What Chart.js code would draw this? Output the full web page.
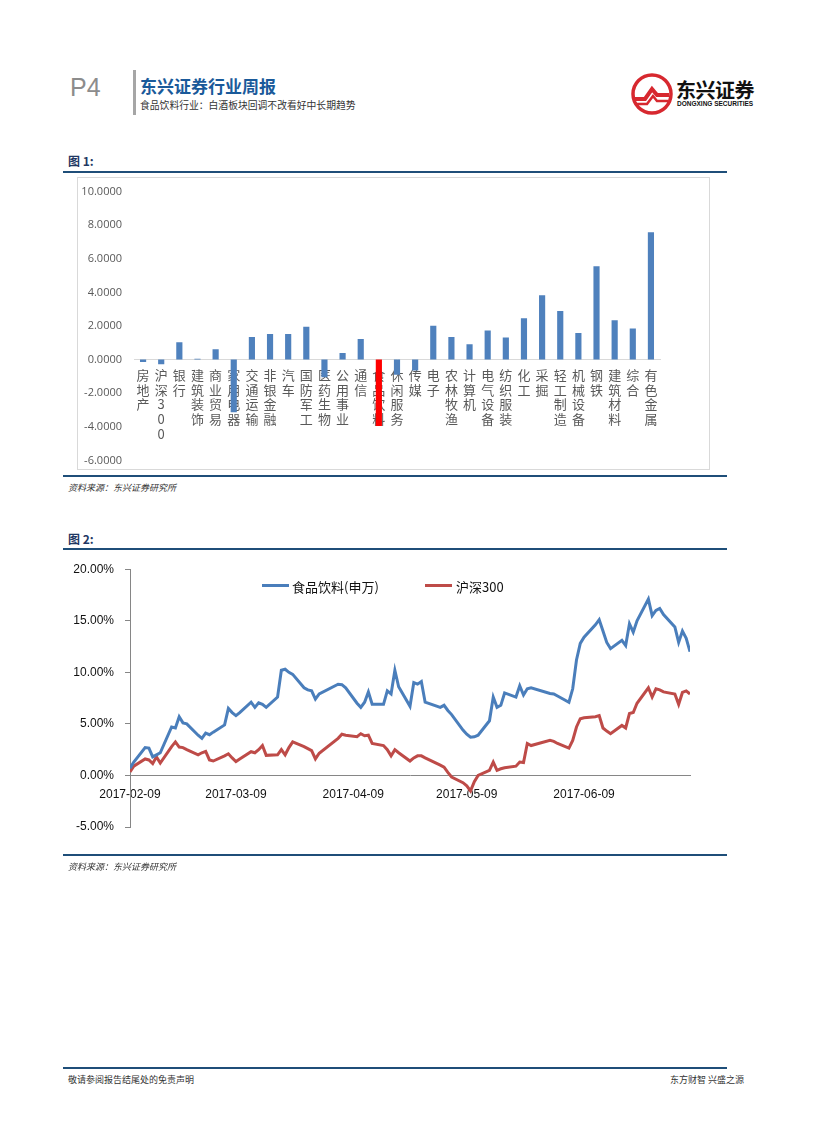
<!DOCTYPE html>
<html>
<head>
<meta charset="utf-8">
<script src="https://cdn.jsdelivr.net/npm/chart.js@4.4.0/dist/chart.umd.min.js"></script>
<style>
body { margin: 0; background: #fff; font-family: "Noto Sans CJK SC", "Liberation Sans", sans-serif; }
#page { position: relative; width: 827px; height: 1122px; overflow: hidden; background: #fff; }
.abs { position: absolute; white-space: nowrap; }
.rule { position: absolute; left: 63px; width: 664px; height: 2px; background: #1f4e79; }
.figTitle { font-size: 12px; font-weight: bold; color: #1f3864; }
.src { font-size: 9px; font-style: italic; color: #333; }
.legItem { position: absolute; top: 577px; font-size: 13px; color: #111; }
.legLine { position: absolute; height: 3px; top: 584px; width: 27px; }
</style>
</head>
<body>
<div id="page">
  <!-- header -->
  <div class="abs" style="left:70px;top:73px;font-family:'Liberation Sans';font-size:25px;color:#8c8c8c;">P4</div>
  <div class="abs" style="left:133px;top:70px;width:3px;height:45px;background:#a6a6a6;"></div>
  <div class="abs" style="left:140px;top:73px;font-size:17px;font-weight:bold;color:#1a5a9a;">东兴证券行业周报</div>
  <div class="abs" style="left:140px;top:98px;font-size:9.8px;color:#333;">食品饮料行业：白酒板块回调不改看好中长期趋势</div>
  <svg class="abs" style="left:630px;top:72px;" width="44" height="44" viewBox="0 0 44 44">
    <circle cx="22" cy="22" r="19" fill="#fff" stroke="#d7282f" stroke-width="3.5"/>
    <path d="M5,27 L15,27 L22,17 L27,23 L39,23" fill="none" stroke="#d7282f" stroke-width="4"/>
    <path d="M6,32 L17,32 L23,24 L27,29 L38,29" fill="none" stroke="#d7282f" stroke-width="2.5"/>
  </svg>
  <div class="abs" style="left:676px;top:75px;font-size:20px;font-weight:bold;color:#111;letter-spacing:-0.5px;">东兴证券</div>
  <div class="abs" style="left:677px;top:100px;font-family:'Liberation Sans';font-size:6.5px;font-weight:bold;color:#111;">DONGXING SECURITIES</div>

  <!-- figure 1 -->
  <div class="abs figTitle" style="left:68px;top:152px;">图 1:</div>
  <div class="rule" style="top:171px;"></div>
  <div class="abs" style="left:77px;top:177px;width:633px;height:293px;border:1px solid #d9d9d9;box-sizing:border-box;"></div>
  <div class="abs" style="left:78px;top:173px;width:631px;height:306px;">
    <canvas id="c1" width="631" height="306"></canvas>
  </div>
  <div class="rule" style="top:475px;"></div>
  <div class="abs src" style="left:68px;top:481px;">资料来源：东兴证券研究所</div>

  <!-- figure 2 -->
  <div class="abs figTitle" style="left:68px;top:530px;">图 2:</div>
  <div class="rule" style="top:548px;"></div>
  <div class="abs" style="left:60px;top:551px;width:667px;height:306px;">
    <canvas id="c2" width="667" height="306"></canvas>
  </div>
  <div class="legLine" style="left:262px;background:#4a7ebb;"></div>
  <div class="legItem" style="left:292px;">食品饮料(申万)</div>
  <div class="legLine" style="left:425px;background:#be4b48;"></div>
  <div class="legItem" style="left:456px;">沪深300</div>
  <div class="rule" style="top:854px;"></div>
  <div class="abs src" style="left:68px;top:860px;">资料来源：东兴证券研究所</div>

  <!-- footer -->
  <div class="rule" style="top:1067px;"></div>
  <div class="abs" style="left:68px;top:1073px;font-size:9px;color:#333;">敬请参阅报告结尾处的免责声明</div>
  <div class="abs" style="left:670px;top:1073px;font-size:9px;color:#333;">东方财智 兴盛之源</div>
</div>

<script>
// 图1: 申万一级行业周涨跌幅(%)
const industries = ['房地产', '沪深300', '银行', '建筑装饰', '商业贸易', '家用电器', '交通运输', '非银金融', '汽车', '国防军工',
  '医药生物', '公用事业', '通信', '食品饮料', '休闲服务', '传媒', '电子', '农林牧渔', '计算机', '电气设备',
  '纺织服装', '化工', '采掘', '轻工制造', '机械设备', '钢铁', '建筑材料', '综合', '有色金属'];
const weeklyChange = [-0.15, -0.27, 1.03, 0.05, 0.61, -3.14, 1.35, 1.53, 1.53, 1.96,
  -1.05, 0.40, 1.23, -3.95, -0.90, -0.65, 2.02, 1.35, 0.92, 1.73,
  1.31, 2.46, 3.83, 2.90, 1.59, 5.56, 2.34, 1.85, 7.58];
const highlight = '食品饮料';
const y1Min = -6, y1Max = 10, y1Step = 2;

// 图2: 累计涨跌幅(%)
const tradeDates = [
  '2017-02-09', '2017-02-10', '2017-02-13', '2017-02-14', '2017-02-15', '2017-02-16', '2017-02-17', '2017-02-20', '2017-02-21', '2017-02-22',
  '2017-02-23', '2017-02-24', '2017-02-27', '2017-02-28',
  '2017-03-01', '2017-03-02', '2017-03-03', '2017-03-06', '2017-03-07', '2017-03-08', '2017-03-09', '2017-03-10', '2017-03-13', '2017-03-14',
  '2017-03-15', '2017-03-16', '2017-03-17', '2017-03-20', '2017-03-21', '2017-03-22', '2017-03-23', '2017-03-24', '2017-03-27', '2017-03-28',
  '2017-03-29', '2017-03-30', '2017-03-31',
  '2017-04-05', '2017-04-06', '2017-04-07', '2017-04-10', '2017-04-11', '2017-04-12', '2017-04-13', '2017-04-14', '2017-04-17', '2017-04-18',
  '2017-04-19', '2017-04-20', '2017-04-21', '2017-04-24', '2017-04-25', '2017-04-26', '2017-04-27', '2017-04-28',
  '2017-05-02', '2017-05-03', '2017-05-04', '2017-05-05', '2017-05-08', '2017-05-09', '2017-05-10', '2017-05-11', '2017-05-12', '2017-05-15',
  '2017-05-16', '2017-05-17', '2017-05-18', '2017-05-19', '2017-05-22', '2017-05-23', '2017-05-24', '2017-05-25', '2017-05-26', '2017-05-31',
  '2017-06-01', '2017-06-02', '2017-06-05', '2017-06-06', '2017-06-07', '2017-06-08', '2017-06-09', '2017-06-12', '2017-06-13', '2017-06-14',
  '2017-06-15', '2017-06-16', '2017-06-19', '2017-06-20', '2017-06-21', '2017-06-22', '2017-06-23', '2017-06-26', '2017-06-27', '2017-06-28',
  '2017-06-29', '2017-06-30',
  '2017-07-03', '2017-07-04', '2017-07-05', '2017-07-06', '2017-07-07'];
const foodBeverage = [
  0.7, 1.3, 2.7, 2.65, 1.8, 2.0, 2.2, 4.7, 4.6, 5.7,
  5.1, 5.0, 3.9, 3.6,
  4.1, 3.95, 4.2, 4.9, 6.5, 6.1, 5.8, 6.1, 7.1, 6.6,
  7.05, 6.9, 6.6, 7.6, 10.2, 10.3, 10.0, 9.8, 8.5, 8.3,
  8.2, 7.4, 7.9,
  8.85, 8.8, 8.5, 7.0, 6.6, 7.1, 8.1, 6.9, 6.9, 8.2,
  7.9, 10.2, 8.6, 6.7, 9.0, 8.85, 9.1, 7.1,
  6.6, 6.8, 6.3, 5.9, 4.4, 4.0, 3.7, 3.75, 3.9, 5.3,
  7.6, 6.6, 6.8, 8.0, 7.6, 8.7, 7.8, 8.4, 8.5, 7.95,
  7.9, 7.7, 7.1, 8.4, 11.2, 12.8, 13.4, 14.6, 15.1, 14.0,
  12.9, 12.3, 13.1, 12.6, 14.7, 13.9, 15.0, 17.1, 15.5, 16.0,
  16.2, 15.6,
  14.4, 12.9, 14.0, 13.3, 12.0];
const hs300 = [
  0.35, 0.9, 1.6, 1.5, 1.15, 1.8, 1.2, 2.8, 3.25, 2.75,
  2.7, 2.5, 2.0, 2.2,
  2.33, 1.5, 1.4, 1.9, 2.1, 1.7, 1.35, 1.6, 2.3, 2.2,
  2.5, 2.9, 1.95, 2.0, 2.5, 2.0, 2.7, 3.25, 2.8, 2.6,
  2.4, 1.6, 2.15,
  3.6, 4.0, 3.9, 3.75, 4.05, 3.85, 3.9, 3.1, 2.9, 2.5,
  1.9, 2.5, 2.2, 1.4, 1.7, 1.9, 1.9, 1.7,
  1.0, 0.8, 0.3, -0.15, -0.7, -1.0, -1.5, -0.6, 0.0, 0.5,
  1.3, 0.5, 0.65, 0.75, 0.9, 1.3, 1.25, 3.1, 2.9, 3.4,
  3.3, 3.1, 2.65, 3.4, 4.7, 5.5, 5.6, 5.7, 5.8, 4.6,
  4.3, 4.05, 4.85, 4.6, 6.0, 6.1, 7.0, 8.5, 7.6, 8.4,
  8.3, 8.1,
  7.9, 6.9, 8.05, 8.2, 7.9];
const dateTicks = ['2017-02-09', '2017-03-09', '2017-04-09', '2017-05-09', '2017-06-09'];
const y2Min = -5, y2Max = 20, y2Step = 5;

const dayOf = s => (Date.parse(s) - Date.parse(tradeDates[0])) / 86400000;

window.addEventListener('load', () => {
  new Chart(document.getElementById('c1'), {
    type: 'bar',
    data: {
      labels: industries,
      datasets: [{
        data: weeklyChange,
        backgroundColor: industries.map(n => n === highlight ? '#ff0000' : '#4f81bd'),
        barPercentage: 1,
        categoryPercentage: 0.34
      }]
    },
    options: {
      responsive: false,
      animation: false,
      layout: { padding: { top: 13, bottom: 10, right: 49, left: 0 } },
      plugins: { legend: { display: false }, tooltip: { enabled: false } },
      scales: {
        x: {
          position: { y: 0 },
          grid: { display: false, drawTicks: false },
          border: { color: '#d9d9d9', width: 1 },
          ticks: {
            autoSkip: false, maxRotation: 0, minRotation: 0, padding: 8,
            color: '#595959',
            font: { size: 13, lineHeight: 1.13, family: '"Noto Sans CJK SC", sans-serif' },
            callback: (v, i) => Array.from(industries[i])
          },
          afterFit: s => { s.height = 0; }
        },
        y: {
          min: y1Min, max: y1Max,
          grid: { display: false, drawTicks: false },
          border: { display: false },
          ticks: {
            stepSize: y1Step, padding: 12, color: '#595959',
            font: { size: 11, family: '"Open Sans", sans-serif' },
            callback: v => v.toFixed(4)
          },
          afterFit: s => { s.width = 56; }
        }
      }
    }
  });

  const pts = vals => tradeDates.map((d, i) => ({ x: dayOf(d), y: vals[i] }));

  new Chart(document.getElementById('c2'), {
    type: 'line',
    data: {
      datasets: [
        { label: '食品饮料(申万)', data: pts(foodBeverage), borderColor: '#4a7ebb', borderWidth: 3, pointRadius: 0, tension: 0 },
        { label: '沪深300', data: pts(hs300), borderColor: '#be4b48', borderWidth: 3, pointRadius: 0, tension: 0 }
      ]
    },
    options: {
      responsive: false,
      animation: false,
      layout: { padding: { top: 14, bottom: 30, right: 37, left: 0 } },
      plugins: { legend: { display: false }, tooltip: { enabled: false } },
      scales: {
        x: {
          type: 'linear',
          position: { y: 0 },
          min: 0, max: dayOf(tradeDates[tradeDates.length - 1]),
          afterBuildTicks: s => { s.ticks = dateTicks.map(t => ({ value: dayOf(t) })); },
          grid: { display: false, drawTicks: false },
          border: { color: '#868686', width: 1 },
          ticks: {
            autoSkip: false, maxRotation: 0, minRotation: 0, padding: 12,
            color: '#111',
            font: { size: 12, family: '"Liberation Sans", sans-serif' },
            callback: (v, i) => dateTicks[i]
          },
          afterFit: s => { s.height = 0; }
        },
        y: {
          min: y2Min, max: y2Max,
          grid: { drawOnChartArea: false, drawTicks: true, tickLength: 5, color: '#868686' },
          border: { color: '#868686', width: 1 },
          ticks: {
            stepSize: y2Step, padding: 11, color: '#111',
            font: { size: 12, family: '"Liberation Sans", sans-serif' },
            callback: v => v.toFixed(2) + '%'
          },
          afterFit: s => { s.width = 70; }
        }
      }
    }
  });
});
</script>
</body>
</html>
